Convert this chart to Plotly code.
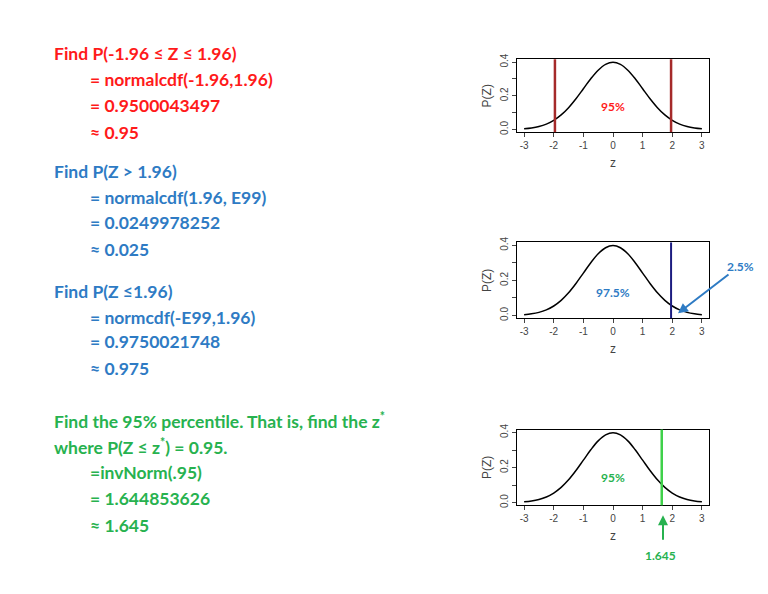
import plotly.graph_objects as go

z_vals = [-3, -2.75, -2.5, -2.25, -2, -1.75, -1.5, -1.25, -1, -0.75, -0.5, -0.25, 0,
          0.25, 0.5, 0.75, 1, 1.25, 1.5, 1.75, 2, 2.25, 2.5, 2.75, 3]
p_vals = [0.0044, 0.0091, 0.0175, 0.0317, 0.0540, 0.0863, 0.1295, 0.1826, 0.2420, 0.3011, 0.3521, 0.3867, 0.3989,
          0.3867, 0.3521, 0.3011, 0.2420, 0.1826, 0.1295, 0.0863, 0.0540, 0.0317, 0.0175, 0.0091, 0.0044]
x_ticks = [-3, -2, -1, 0, 1, 2, 3]
y_ticks = [0.0, 0.1, 0.2, 0.3, 0.4]
y_ticktext = ["0.0", "", "0.2", "", "0.4"]
lines1 = [-1.96, 1.96]
line2 = 1.96
line3 = 1.645

RED = "#ff1a1a"; BLUE = "#2e7bc4"; GREEN = "#27b24f"
FONT = "Lato"
OFF = 8
W, H = 768 - OFF, 594 - OFF

def px(x):
    return (x - OFF) / W

def py(y):
    return 1 - (y - OFF) / H

fig = go.Figure()
boxes = [(54, 128), (240, 317), (430, 507)]
for i, (top, bot) in enumerate(boxes, start=1):
    fig.add_trace(go.Scatter(x=z_vals, y=p_vals, mode="lines", line=dict(color="black", width=1.5, shape="spline"),
                             xaxis=f"x{i}", yaxis=f"y{i}", showlegend=False, hoverinfo="skip"))
    ax = dict(domain=[px(517), px(709)], range=[-3.24, 3.24], tickvals=x_ticks, ticktext=[str(t) for t in x_ticks],
              ticks="outside", ticklen=4, showline=True, mirror=True, linecolor="black", linewidth=1,
              showgrid=False, zeroline=False, tickfont=dict(family="Liberation Sans", size=10, color="#444"),
              title=dict(text="z", font=dict(family="Liberation Sans", size=12, color="#444"), standoff=8),
              anchor=f"y{i}")
    ay = dict(domain=[py(bot), py(top)], range=[-0.016, 0.417], tickvals=y_ticks, ticktext=y_ticktext,
              tickangle=-90, ticks="outside", ticklen=4, showline=True, mirror=True, linecolor="black", linewidth=1,
              showgrid=False, zeroline=False, tickfont=dict(family="Liberation Sans", size=10, color="#444"),
              title=dict(text="P(Z)", font=dict(family="Liberation Sans", size=12, color="#444"), standoff=4),
              anchor=f"x{i}")
    fig.layout[f"xaxis{i}"] = ax
    fig.layout[f"yaxis{i}"] = ay

for v in lines1:
    fig.add_shape(type="line", x0=v, x1=v, y0=0, y1=1, xref="x", yref="y domain", line=dict(color="#a52a2a", width=2.5))
fig.add_shape(type="line", x0=line2, x1=line2, y0=0, y1=1, xref="x2", yref="y2 domain", line=dict(color="#1c1c80", width=2))
fig.add_shape(type="line", x0=line3, x1=line3, y0=0, y1=1, xref="x3", yref="y3 domain", line=dict(color="#3fd14a", width=2.5))

def txt(x, y, s, color, size=17.5, anchor="left"):
    fig.add_annotation(x=px(x), y=py(y), xref="paper", yref="paper", text=f"<b>{s}</b>", showarrow=False,
                       xanchor=anchor, yanchor="middle", font=dict(family=FONT, size=size, color=color))

blocks = [
    (RED, [(52, 48, "Find P(-1.96 ≤ Z ≤ 1.96)"), (88, 75, "= normalcdf(-1.96,1.96)"),
           (88, 101, "= 0.9500043497"), (88, 128, "≈ 0.95")]),
    (BLUE, [(52, 168, "Find P(Z > 1.96)"), (88, 194, "= normalcdf(1.96, E99)"),
            (88, 220, "= 0.0249978252"), (88, 247, "≈ 0.025"),
            (52, 290, "Find P(Z ≤1.96)"), (88, 316, "= normcdf(-E99,1.96)"),
            (88, 341, "= 0.9750021748"), (88, 368, "≈ 0.975")]),
    (GREEN, [(52, 421, "Find the 95% percentile. That is, find the z<sup>*</sup>"),
             (52, 447, "where P(Z ≤ z<sup>*</sup>) = 0.95."), (88, 474, "=invNorm(.95)"),
             (88, 500, "= 1.644853626"), (88, 527, "≈ 1.645")]),
]
for color, items in blocks:
    for x, y, s in items:
        txt(x, y, s, color)

txt(613, 102, "95%", RED, 12, "center")
txt(613, 291, "97.5%", BLUE, 12, "center")
txt(740, 264, "2.5%", BLUE, 12, "center")
txt(613, 479, "95%", GREEN, 12, "center")
txt(660, 558, "1.645", GREEN, 12, "center")

fig.add_annotation(x=px(678), y=py(312), xref="paper", yref="paper", text="", showarrow=True,
                   ax=52, ay=-40, arrowcolor=BLUE, arrowwidth=2, arrowhead=2, arrowsize=1)
fig.add_annotation(x=px(663), y=py(517), xref="paper", yref="paper", text="", showarrow=True,
                   ax=0, ay=26, arrowcolor=GREEN, arrowwidth=2, arrowhead=2, arrowsize=1)

fig.update_layout(width=W, height=H, margin=dict(l=0, r=0, t=0, b=0),
                  paper_bgcolor="white", plot_bgcolor="white")
fig.write_html("out.html")
